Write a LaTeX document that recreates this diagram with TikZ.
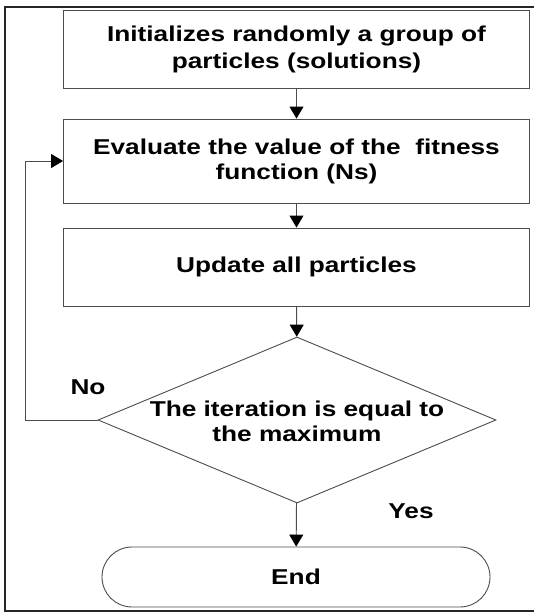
\documentclass[tikz,border=0pt]{standalone}
\usepackage{fontspec}
\setmainfont{Liberation Sans}[FakeStretch=1.22]
\usetikzlibrary{arrows.meta,shapes.geometric,shapes.misc}
\begin{document}
\begin{tikzpicture}[x=1pt,y=-1pt,
  line/.style={draw=black!70, line width=0.9pt},
  txt/.style={font=\fontsize{21.5pt}{25pt}\selectfont\bfseries},
  boxnode/.style={line, txt, rectangle, minimum width=466pt, align=center, inner sep=0pt},
  lbl/.style={txt, inner sep=0pt},
  flow/.style={line, -{Triangle[length=12pt,width=14pt,color=black]}}]
\useasboundingbox (0,0) rectangle (533,613);
\draw[line width=1.4pt, black!85] (534,7) -- (5,7) -- (5,611) -- (534,611);
\node[boxnode, minimum height=78pt, font=\fontsize{21.5pt}{27pt}\selectfont\bfseries] (b1) at (296.5,49) {Initializes randomly a group of\\particles (solutions)};
\node[boxnode, minimum height=84pt] (b2) at (296.5,161) {Evaluate the value of the\ \ fitness\\function (Ns)};
\node[boxnode, minimum height=78pt] (b3) at (296.5,267) {Update all particles};
\node[line, diamond, minimum width=398pt, minimum height=166pt, inner sep=0pt] (d) at (297,420) {};
\node[lbl, align=center] (dt) at (297,421) {The iteration is equal to\\the maximum};
\node[line, rounded rectangle, minimum width=388pt, minimum height=60pt, inner sep=0pt, txt] (e) at (296,577) {End};
\node[lbl] (no) at (88,387) {No};
\node[lbl] (yes) at (411,511) {Yes};
\coordinate (c) at (25.5,420);
\draw[flow] (b1) -- (b2);
\draw[flow] (b2) -- (b3);
\draw[flow] (b3) -- (d);
\draw[flow] (d) -- (e);
\draw[flow] (d.west) -- (c) |- (b2.west);
\end{tikzpicture}
\end{document}
